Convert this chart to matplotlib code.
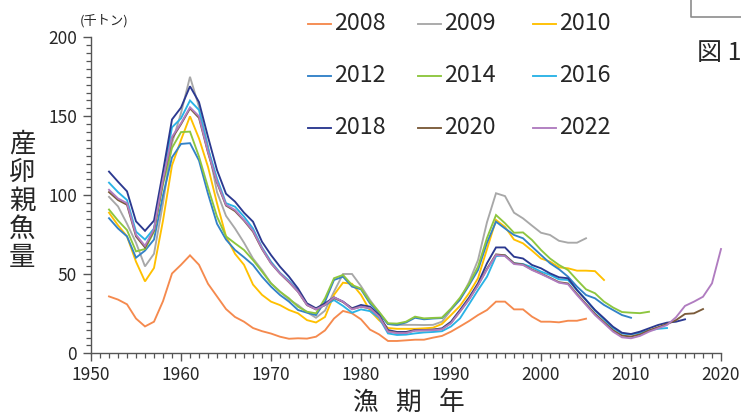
import matplotlib
matplotlib.use("Agg")
import matplotlib.pyplot as plt
from matplotlib.lines import Line2D
from matplotlib.ticker import MultipleLocator

plt.rcParams['font.family'] = ['Noto Sans CJK JP', 'DejaVu Sans']

# ---- data (thousand tonnes), each series starts in 1952 ----
start_year = 1952
labels = ['2008', '2009', '2010', '2012', '2014', '2016', '2018', '2020', '2022']
colors = ['#F58A4E', '#A8A8A8', '#FFC000', '#3382C8', '#8DC63F',
          '#2AB3E6', '#2B3990', '#7B5B3A', '#B07CC0']

s2008 = [36, 34, 31, 22, 17, 20, 33, 50.5, 56, 62,
         56, 44, 36, 28, 23, 20, 16, 14, 12.5, 10.5,
         9.2, 9.5, 9.3, 10.5, 14.5, 22, 26.8, 25.3, 21.5, 15,
         12, 7.8, 7.8, 8.2, 8.6, 8.6, 9.9, 11, 13.7, 17,
         20.4, 24.2, 27.4, 32.7, 32.7, 27.8, 27.8, 23.2, 20, 20,
         19.6, 20.6, 20.6, 21.9]
s2009 = [99, 93, 82, 70, 55, 63, 95, 133, 152, 175,
         156, 131, 102, 87, 79, 70, 60, 52.7, 44.3, 39,
         34, 30.5, 26, 22.5, 27, 39, 50.2, 50.2, 42.5, 33.7,
         26, 18.6, 18, 18, 18, 17.9, 18, 20, 27.4, 34,
         45, 59, 83, 101.3, 99.5, 89, 85.4, 80.8, 76.3, 74.9,
         71.2, 70, 70, 72.8]
s2010 = [89, 81, 74, 58, 45.5, 54, 84, 119, 135, 150,
         136, 118, 95, 74, 63, 56, 43.5, 37, 32.7, 30.5,
         27.4, 25.3, 21, 19.5, 23, 37, 44.7, 44, 37, 27,
         21, 16, 15.5, 15.5, 15.5, 15.8, 16.2, 18.6, 24.2, 30,
         38, 47.5, 66, 84.4, 80, 72, 69.6, 65, 60, 58,
         54.4, 53.8, 52.3, 52.3, 52, 46.4]
s2012 = [85.5, 79, 74, 60.5, 65, 72, 100, 124, 132.5, 133,
         122, 101, 82, 72, 65.4, 60.8, 55.9, 48.5, 42.2, 36.9,
         32.7, 27.4, 25.7, 24.2, 32.7, 46.4, 48.5, 42.2, 40.5, 31.6,
         25.3, 18.5, 18, 19.5, 22.5, 21.5, 22, 22.3, 28, 34,
         43, 52.7, 70, 83.3, 79, 74.9, 72.8, 67.5, 62.2, 57,
         53.2, 48.5, 42.2, 36.9, 34.8, 30.6, 27.4, 24.2, 22.5]
s2014 = [91, 84, 78, 64.5, 66, 77, 107, 130, 140, 140.3,
         124.5, 105, 86.5, 74, 69.6, 65.4, 59, 51.7, 44.3, 39,
         34.8, 29.5, 26.3, 25.3, 34.8, 47.5, 49.6, 43.2, 41, 32.7,
         26.3, 19, 18.8, 20, 23.2, 22.1, 22.4, 22.6, 28.3, 35.2,
         44, 54.8, 73, 87.5, 82.3, 76.3, 76.5, 71.7, 65.4, 60,
         55.9, 52.7, 46.4, 40.5, 38, 32.7, 29, 26.1, 25.7, 25.4,
         26.3]
s2016 = [108, 102, 97, 77, 72, 79, 112, 143, 148.7, 160,
         154, 129.7, 110.7, 95, 92.8, 86.5, 79, 67, 58, 51,
         46, 39.5, 31, 28, 30.5, 33.7, 30, 25.7, 27.8, 26.7,
         22.5, 12.6, 11.6, 11.8, 12.6, 13.2, 13.5, 14, 17, 22.1,
         31, 40, 48.5, 61.5, 62, 57, 56.5, 54.5, 51.7, 49.6,
         46.8, 46.4, 40, 34, 27, 21.5, 16, 12.5, 12, 13,
         14.5, 15.5, 16]
s2018 = [115, 108.6, 102.5, 83.5, 77.5, 84, 115, 148, 155.5, 169,
         159, 137, 116, 101, 96, 89, 83.3, 70.6, 62.2, 54.8,
         48.5, 41, 31.6, 28.5, 31.6, 35.4, 32.7, 28.5, 30.6, 29.5,
         24.2, 14.7, 13.5, 13.5, 14.7, 14.7, 15, 15.8, 20, 27.4,
         35.2, 44.3, 57, 67, 67, 61.1, 60, 55.9, 53.8, 50.6,
         48.1, 47.5, 40, 33.7, 27.4, 22.2, 16.8, 13, 12.2, 13.7,
         15.8, 17.9, 19.4, 20, 21.5]
s2020 = [102, 97, 94, 74, 67, 78, 109, 136, 145, 155,
         149, 127, 108, 93.5, 90, 84, 77, 66, 57, 50.5,
         45, 39, 30.5, 27.8, 30.6, 35, 32.5, 28, 29.5, 28.5,
         23.5, 14, 13, 13, 14.5, 14.6, 14.8, 15.4, 19.2, 26.5,
         34.2, 43.2, 53.5, 62.6, 62, 57, 56.2, 53, 50.5, 47.8,
         45, 44.2, 37.5, 31.2, 25, 19.8, 14.6, 11.2, 10.6, 12,
         14.5, 16.5, 18.5, 21, 24.9, 25.3, 28]
s2022 = [103.5, 98, 95, 75, 68, 78.6, 110, 137, 145.6, 155.7,
         150, 127.6, 108.6, 94, 90.7, 84.4, 77.6, 66.4, 57, 50.6,
         45.3, 39, 30.6, 27.8, 30.6, 35.4, 32.7, 27.8, 29.5, 28.5,
         23.2, 13.7, 12.8, 12.8, 14.3, 14.5, 14.6, 15.2, 19, 26.4,
         34, 43, 53, 62.2, 61.5, 56.5, 55.9, 52.7, 50.2, 47.5,
         44.7, 43.7, 36.9, 30.6, 24.2, 19, 13.7, 10.1, 9.5, 11,
         13.7, 15.8, 17.9, 22.8, 30, 32.7, 35.8, 44.3, 66]

series = [s2008, s2009, s2010, s2012, s2014, s2016, s2018, s2020, s2022]

x_ticks = [1950, 1960, 1970, 1980, 1990, 2000, 2010, 2020]
y_ticks = [0, 50, 100, 150, 200]

# ---- figure ----
W, H = 741, 419
fig = plt.figure(figsize=(W / 100, H / 100), dpi=100)
ax = fig.add_axes([91 / W, 1 - 353.3 / H, (721 - 91) / W, (353.3 - 37.3) / H])

for vals, c in zip(series, colors):
    yrs = list(range(start_year, start_year + len(vals)))
    ax.plot(yrs, vals, color=c, lw=1.35, clip_on=False, solid_joinstyle='miter')

ax.set_xlim(1950, 2020)
ax.set_ylim(0, 200)
ax.set_xticks(x_ticks)
ax.set_yticks(y_ticks)
ax.xaxis.set_minor_locator(MultipleLocator(1))
ax.yaxis.set_minor_locator(MultipleLocator(5))
for s in ['top', 'right']:
    ax.spines[s].set_visible(False)
for s in ['left', 'bottom']:
    ax.spines[s].set_color('#555555')
    ax.spines[s].set_linewidth(1.0)
ax.tick_params(which='major', length=6, width=1.0, color='#555555',
               labelsize=12.5, labelcolor='#262626', pad=3)
ax.tick_params(which='minor', length=3.5, width=0.9, color='#555555')
ax.tick_params(axis='y', which='major', pad=4)

# unit
fig.text(104 / W, 1 - 21 / H, '(千トン)', fontsize=9.5, color='#262626',
         ha='center', va='center')

# y label stacked vertically
fig.text(22 / W, 1 - 201 / H, '\n'.join('産卵親魚量'), fontsize=19, color='#262626',
         ha='center', va='center', linespacing=1.07)

# x label
for ch, xp in zip('漁期年', [365, 408, 452]):
    fig.text(xp / W, 1 - 403 / H, ch, fontsize=18.5, color='#262626',
             ha='center', va='center')

# legend (3 x 3, row-wise order)
col_x = [308, 418, 533]
row_y = [24, 76, 128]
for i, (lab, c) in enumerate(zip(labels, colors)):
    r, k = divmod(i, 3)
    x0 = col_x[k]
    y0 = 1 - row_y[r] / H
    fig.add_artist(Line2D([x0 / W, (x0 + 23) / W], [y0, y0], color=c, lw=1.35))
    fig.text((x0 + 26) / W, y0, lab, fontsize=16.8, color='#262626',
             ha='left', va='center')

# partial box and figure caption at top right
fig.add_artist(Line2D([691 / W, 691 / W, 1.0], [1.0, 1 - 17 / H, 1 - 17 / H],
                      color='#8C8C8C', lw=1.2))
fig.text(697 / W, 1 - 53 / H, '図 1', fontsize=18, color='#262626',
         ha='left', va='center')

fig.savefig('out.png', dpi=100)
